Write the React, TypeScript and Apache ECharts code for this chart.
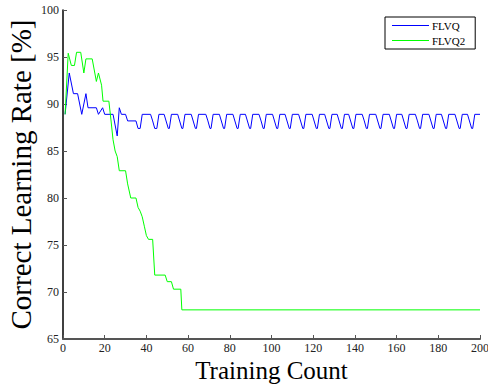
import React, { useEffect, useRef } from "react";
import * as echarts from "echarts";

const flvqX = [1, 3, 5, 7, 9, 11, 12, 16, 17, 19, 20, 24, 26, 27, 28, 30, 31, 35, 36, 37, 38, 42, 43, 44, 45, 46,
  48.5, 50.5, 51, 52, 55, 57, 57.5, 58.5, 61.5, 63.5, 64, 65, 68.5, 69.5, 70.5, 71, 72, 75, 77, 77.5, 78.5,
  81.5, 83.5, 84, 85, 87.5, 89.5, 90, 91, 94, 95, 96, 96.5, 97.5, 100.5, 102.5, 103, 104, 106.5, 108.5, 109, 110,
  113, 115, 115.5, 116.5, 119.5, 121.5, 122, 123, 125.5, 127.5, 128, 129, 131.5, 133.5, 134, 135,
  137, 139, 139.5, 140.5, 143.5, 144.5, 145.5, 146, 147, 150, 152, 152.5, 153.5, 156.5, 158.5, 159, 160,
  162.5, 164.5, 165, 166, 169, 170, 171, 171.5, 172.5, 175.5, 177.5, 178, 179, 181.5, 183.5, 184, 185,
  188, 190, 190.5, 191.5, 194, 196, 196.5, 197.5, 200];
const flvqY = [88.9, 93.3, 91.1, 91.1, 88.9, 91.1, 89.6, 89.6, 88.9, 89.6, 88.9, 88.9, 86.6, 89.6, 88.9, 88.9, 88.2, 88.2, 87.4, 87.4, 88.9, 88.9, 88.2, 87.4, 87.4, 88.9,
  88.9, 87.4, 87.4, 88.9, 88.9, 87.4, 87.4, 88.9, 88.9, 87.4, 87.4, 88.9, 88.9, 88.2, 87.4, 87.4, 88.9, 88.9, 87.4, 87.4, 88.9,
  88.9, 87.4, 87.4, 88.9, 88.9, 87.4, 87.4, 88.9, 88.9, 88.2, 87.4, 87.4, 88.9, 88.9, 87.4, 87.4, 88.9, 88.9, 87.4, 87.4, 88.9,
  88.9, 87.4, 87.4, 88.9, 88.9, 87.4, 87.4, 88.9, 88.9, 87.4, 87.4, 88.9, 88.9, 87.4, 87.4, 88.9,
  88.9, 87.4, 87.4, 88.9, 88.9, 88.2, 87.4, 87.4, 88.9, 88.9, 87.4, 87.4, 88.9, 88.9, 87.4, 87.4, 88.9,
  88.9, 87.4, 87.4, 88.9, 88.9, 88.2, 87.4, 87.4, 88.9, 88.9, 87.4, 87.4, 88.9, 88.9, 87.4, 87.4, 88.9,
  88.9, 87.4, 87.4, 88.9, 88.9, 87.4, 87.4, 88.9, 88.9];

const flvq2X = [1, 2.5, 4, 5.5, 6.5, 8.5, 10, 11, 14, 16, 17, 18.5, 19.2, 22, 23, 24, 25, 26, 27, 30, 31, 32.5, 35,
  36, 37, 38, 39, 40, 41, 43, 44, 49, 50, 52, 53, 56.5, 57, 200];
const flvq2Y = [88.9, 95.4, 94.1, 94.1, 95.5, 95.5, 93.3, 94.8, 94.8, 92.4, 93.3, 92.0, 90.3, 90.3, 88.3, 86.2, 85.0, 84.4, 82.9, 82.9, 81.5, 80.0, 80.0,
  79.0, 78.6, 78.0, 77.0, 76.0, 75.6, 75.6, 71.8, 71.8, 71.1, 71.1, 70.3, 70.3, 68.1, 68.1];

const seriesNames = ["FLVQ", "FLVQ2"];
const xTitle = "Training Count";
const yTitle = "Correct Learning Rate [%]";

const FONT = "Liberation Serif";

export default function App() {
  const ref = useRef<HTMLDivElement>(null);
  useEffect(() => {
    if (!ref.current) return;
    const chart = echarts.init(ref.current, undefined, { renderer: "svg" });
    const toPairs = (xs: number[], ys: number[]) => xs.map((x, i) => [x, ys[i]]);
    chart.setOption({
      animation: false,
      backgroundColor: "#fff",
      grid: { left: 63, right: 8, top: 10, bottom: 46, containLabel: false, outerBoundsMode: "none" },
      legend: {
        data: seriesNames,
        orient: "vertical",
        left: 385,
        top: 17,
        icon: "rect",
        itemWidth: 37,
        itemHeight: 1,
        itemGap: 4,
        padding: [3, 10, 3, 7],
        borderColor: "#000",
        borderWidth: 1,
        textStyle: { fontFamily: FONT, fontSize: 11, color: "#000", lineHeight: 11, padding: [0, 0, 0, -2] },
      },
      xAxis: {
        type: "value",
        min: 0,
        max: 200,
        interval: 20,
        name: xTitle,
        nameLocation: "middle",
        nameGap: 22,
        nameMoveOverlap: false,
        nameTextStyle: { fontFamily: FONT, fontSize: 25, lineHeight: 18, color: "#000", verticalAlign: "top" },
        axisLine: { lineStyle: { color: "#555", width: 2 } },
        axisTick: { inside: true, length: 4, lineStyle: { color: "#555" } },
        axisLabel: { fontFamily: FONT, fontSize: 12, lineHeight: 12, color: "#222", margin: 3 },
        splitLine: { show: false },
      },
      yAxis: {
        type: "value",
        min: 65,
        max: 100,
        interval: 5,
        name: yTitle,
        nameLocation: "middle",
        nameGap: 28,
        nameMoveOverlap: false,
        nameTextStyle: { fontFamily: FONT, fontSize: 29, color: "#000" },
        axisLine: { lineStyle: { color: "#000", width: 1.5 } },
        axisTick: { inside: true, length: 4, lineStyle: { color: "#555" } },
        axisLabel: { fontFamily: FONT, fontSize: 12, color: "#222", margin: 4 },
        splitLine: { show: false },
      },
      series: [
        {
          name: seriesNames[0],
          type: "line",
          data: toPairs(flvqX, flvqY),
          showSymbol: false,
          lineStyle: { color: "#0000ff", width: 1 },
          itemStyle: { color: "#0000ff" },
        },
        {
          name: seriesNames[1],
          type: "line",
          data: toPairs(flvq2X, flvq2Y),
          showSymbol: false,
          lineStyle: { color: "#00ff00", width: 1 },
          itemStyle: { color: "#00ff00" },
        },
      ],
    });
    return () => chart.dispose();
  }, []);
  return <div ref={ref} style={{ width: 488, height: 385, position: "absolute", left: 0, top: 0 }} />;
}
